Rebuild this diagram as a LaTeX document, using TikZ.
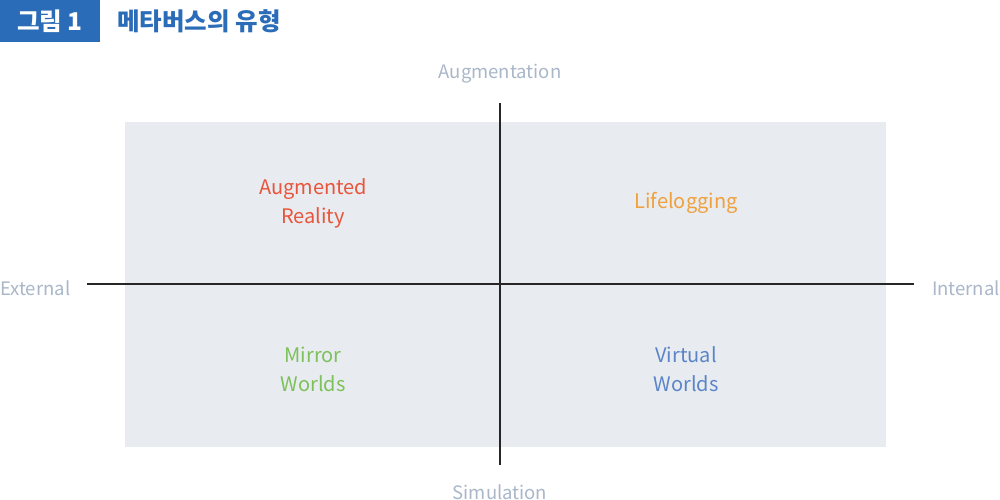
\documentclass[tikz,border=0pt]{standalone}
\usepackage{fontspec}
\setmainfont{Noto Sans CJK KR}
\definecolor{titleblue}{HTML}{2B6CB8}
\definecolor{panel}{HTML}{E8EBF0}
\definecolor{axislab}{HTML}{A9B7C9}
\definecolor{cred}{HTML}{E9553A}
\definecolor{corange}{HTML}{F0A03C}
\definecolor{cgreen}{HTML}{7DC15A}
\definecolor{cblue}{HTML}{5B85C8}
\tikzset{
  axis/.style={draw=black!85, line width=1.2pt},
  axlabel/.style={text=axislab, font=\fontsize{18.5}{22}\selectfont, inner sep=0pt},
  quad/.style={font=\fontsize{20}{29}\selectfont, align=center, inner sep=0pt},
}
\begin{document}
\begin{tikzpicture}[x=1pt,y=1pt]
\useasboundingbox (0,0) rectangle (1000,500);
\fill[white] (0,0) rectangle (1000,500);
% title
\fill[titleblue] (0,458) rectangle (100,500);
\node[text=white, font=\fontsize{24.5}{28}\selectfont\bfseries, inner sep=0pt] (fig) at (50,479) {그림 1};
\node[text=titleblue, font=\fontsize{24.5}{28}\selectfont\bfseries, anchor=west, inner sep=0pt] (title) at (117,479) {메타버스의 유형};
% panel
\fill[panel] (125,53) rectangle (886,378);
% axes
\coordinate (top) at (500,397);
\coordinate (bot) at (500,35);
\coordinate (left) at (87,216);
\coordinate (right) at (914,216);
\draw[axis] (top) -- (bot);
\draw[axis] (left) -- (right);
% axis labels
\node[axlabel] (aug) at (500,426) {Augmentation};
\node[axlabel] (sim) at (500,8) {Simulation};
\node[axlabel, anchor=west] (ext) at (0,212) {External};
\node[axlabel, anchor=east] (int) at (1000,212) {Internal};
% quadrant labels
\node[quad, text=cred] (ar) at (313,297) {Augmented\\Reality};
\node[quad, text=corange] (ll) at (686,297) {Lifelogging};
\node[quad, text=cgreen] (mw) at (313,131) {Mirror\\Worlds};
\node[quad, text=cblue] (vw) at (686,131) {Virtual\\Worlds};
\end{tikzpicture}
\end{document}
